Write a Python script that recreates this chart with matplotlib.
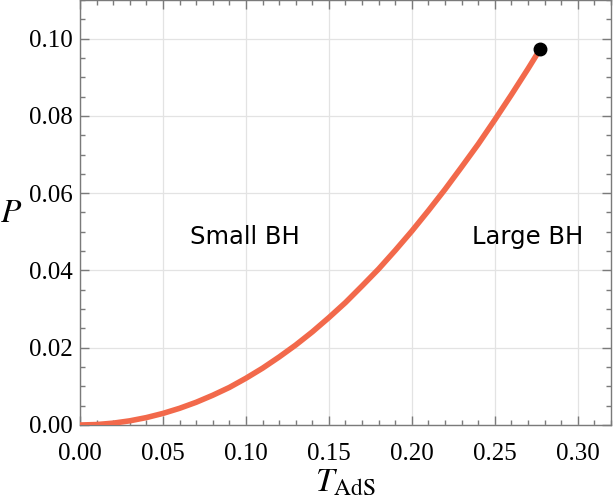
import numpy as np
import matplotlib
matplotlib.use('Agg')
import matplotlib.pyplot as plt
from matplotlib.ticker import MultipleLocator

# coexistence line
T_vals = [0.00, 0.01, 0.02, 0.03, 0.04, 0.05, 0.06, 0.07, 0.08, 0.09,
          0.10, 0.11, 0.12, 0.13, 0.14, 0.15, 0.16, 0.17, 0.18, 0.19,
          0.20, 0.21, 0.22, 0.23, 0.24, 0.25, 0.26, 0.27, 0.2772]
P_vals = [0.0, 0.00012, 0.00048, 0.00108, 0.00192, 0.0030, 0.00432, 0.00588, 0.0077, 0.00972,
          0.0121, 0.0147, 0.0176, 0.0207, 0.0241, 0.0278, 0.0317, 0.0360, 0.0404, 0.0452,
          0.0502, 0.0555, 0.0610, 0.0668, 0.0727, 0.0790, 0.0855, 0.0922, 0.0972]

# critical point
T_crit = [0.2772]
P_crit = [0.0972]

labels = ['Small BH', 'Large BH']
label_T = [0.0993, 0.2696]
label_P = [0.0486, 0.0486]

plt.rcParams['mathtext.fontset'] = 'stix'

fig = plt.figure(figsize=(6.14, 5.01), dpi=100)
ax = fig.add_axes([0.1303, 0.1517, 0.8648, 0.8483])

ax.plot(T_vals, P_vals, color='#F2694B', lw=4.0, solid_capstyle='butt', zorder=3)
ax.plot(T_crit, P_crit, 'o', color='black', ms=9, zorder=4, clip_on=False)

for name, tx, py in zip(labels, label_T, label_P):
    ax.text(tx, py, name, ha='center', va='center', fontsize=17.5,
            family='DejaVu Sans', color='black')

ax.set_xlim(0, 0.32)
ax.set_ylim(0, 0.11)
ax.xaxis.set_major_locator(MultipleLocator(0.05))
ax.xaxis.set_minor_locator(MultipleLocator(0.01))
ax.yaxis.set_major_locator(MultipleLocator(0.02))
ax.yaxis.set_minor_locator(MultipleLocator(0.005))
ax.xaxis.set_major_formatter(plt.FuncFormatter(lambda v, p: '%.2f' % v))
ax.yaxis.set_major_formatter(plt.FuncFormatter(lambda v, p: '%.2f' % v))

ax.grid(True, which='major', color='#e3e3e3', lw=0.9)
ax.set_axisbelow(True)

for s in ax.spines.values():
    s.set_color('#7a7a7a')
    s.set_linewidth(1.0)

ax.tick_params(which='both', direction='in', top=True, right=True,
               color='#7a7a7a', width=1.0)
ax.tick_params(which='major', length=6.5, pad=5)
ax.tick_params(axis='x', which='major', pad=13)
ax.tick_params(which='minor', length=3.5)
for lab in ax.get_xticklabels() + ax.get_yticklabels():
    lab.set_fontfamily('Liberation Serif')
    lab.set_fontsize(18)

ax.set_xlabel(r'$T_{\mathrm{AdS}}$', fontsize=24, labelpad=0)
ax.set_ylabel(r'$P$', fontsize=24, rotation=0, va='center', ha='center')
ax.yaxis.set_label_coords(-0.13, 0.50)

fig.savefig('out.png', dpi=100)
